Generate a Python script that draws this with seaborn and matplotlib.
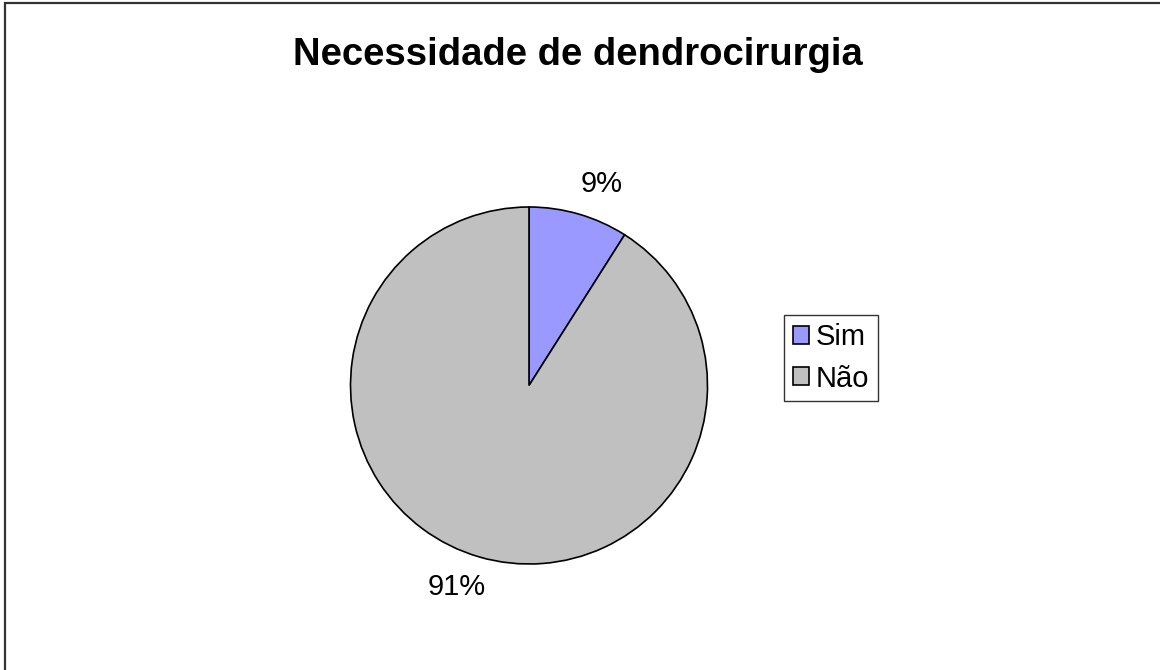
import numpy as np
import matplotlib.pyplot as plt
import seaborn as sns
from matplotlib.patches import Rectangle

# Data for the pie
labels = ['Sim', 'Não']
values = [9, 91]
colors = ['#9999FF', '#C0C0C0']

sns.set_theme(style="white")
plt.rcParams['font.family'] = ['Liberation Sans', 'DejaVu Sans']
plt.rcParams['text.color'] = 'black'

fig = plt.figure(figsize=(11.6, 6.7), dpi=100)
fig.patch.set_facecolor('white')

# Outer frame (only top and left visible in the original)
fig.patches.append(Rectangle((5 / 1160, -0.05), 1.2, 1.05 - 3 / 670,
                             transform=fig.transFigure, fill=False,
                             edgecolor='#333333', linewidth=1.6))

# Axes placed so the pie sits where it does in the reference
ax = fig.add_axes([350 / 1160, (670 - 564) / 670, 358 / 1160, 357 / 670])
wedges, texts, autotexts = ax.pie(
    values, labels=None, colors=colors, startangle=90, counterclock=False,
    autopct='%1.0f%%', pctdistance=1.2,
    wedgeprops=dict(edgecolor='black', linewidth=1.2),
    textprops=dict(fontsize=21, color='black'))

# nudge the percentage labels a little clockwise, like the original
rot = np.deg2rad(-3.5)
for t in autotexts:
    x, y = t.get_position()
    t.set_position((x * np.cos(rot) - y * np.sin(rot), x * np.sin(rot) + y * np.cos(rot)))

ax.set_xlim(-1, 1)
ax.set_ylim(-1, 1)
ax.set_aspect('equal')

fig.suptitle('Necessidade de dendrocirurgia', x=578 / 1160, y=1 - 55 / 670,
             va='center', fontsize=27.5, fontweight='bold', color='black')

leg = fig.legend(wedges, labels, loc='center', bbox_to_anchor=(831 / 1160, 1 - 358 / 670),
                 fontsize=21, frameon=True, fancybox=False, handlelength=0.55,
                 handleheight=0.55, handletextpad=0.25, borderpad=0.3, labelspacing=0.45)
leg.get_frame().set_edgecolor('black')
leg.get_frame().set_linewidth(1.0)
for t in leg.get_texts():
    t.set_color('black')

plt.savefig('out.png', dpi=100)
